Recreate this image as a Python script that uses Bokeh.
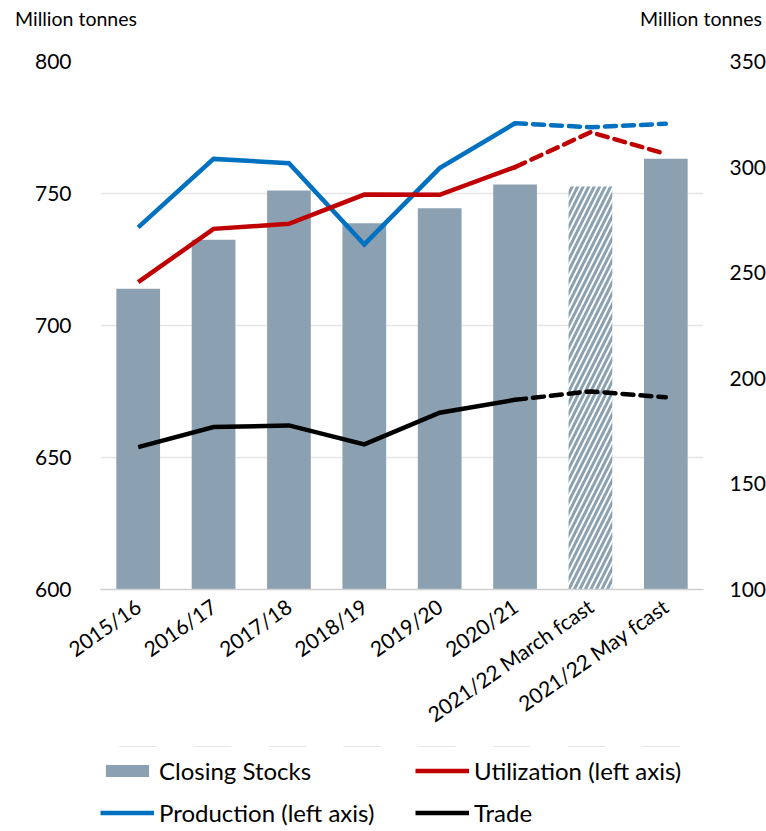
import math
from bokeh.plotting import figure
from bokeh.layouts import column
from bokeh.models import (FactorRange, Range1d, LinearAxis, FixedTicker, Legend, Div)
from bokeh.embed import file_html
from bokeh.resources import INLINE

categories = ["2015/16", "2016/17", "2017/18", "2018/19", "2019/20", "2020/21",
              "2021/22 March fcast", "2021/22 May fcast"]
closing_stocks = [242.4, 265.6, 288.9, 273.4, 280.5, 291.8, 290.8, 303.9]
production = [737.2, 763.1, 761.5, 730.7, 759.6, 776.6, 775.1, 776.4]
utilization = [716.4, 736.6, 738.5, 749.6, 749.5, 760.0, 773.2, 765.0]
trade = [167.4, 176.9, 177.7, 168.7, 183.7, 189.8, 193.8, 191.0]
left_ticks = [600, 650, 700, 750, 800]
right_ticks = [100, 150, 200, 250, 300, 350]
axis_title = "Million tonnes"

FONT = "Lato"
BAR = "#8BA1B1"
BLUE = "#0070C0"
RED = "#C00000"
W = 764
DIV_H = 36

p = figure(x_range=FactorRange(*categories, range_padding=0),
           y_range=Range1d(600, 800),
           frame_width=603, frame_height=528,
           output_backend="svg", toolbar_location=None,
           min_border_left=100, min_border_right=W - 703, min_border_top=61 - DIV_H,
           min_border_bottom=157)
p.outline_line_color = None
p.extra_y_ranges = {"right": Range1d(100, 350)}

# bars
solid_idx = [0, 1, 2, 3, 4, 5, 7]
p.vbar(x=[categories[i] for i in solid_idx],
       top=[closing_stocks[i] for i in solid_idx],
       bottom=100, width=0.58, y_range_name="right",
       fill_color=BAR, line_color=None)
p.vbar(x=[categories[6]], top=[closing_stocks[6]], bottom=100, width=0.58,
       y_range_name="right", fill_color="white", line_color=None,
       hatch_pattern="/", hatch_color=BAR, hatch_weight=3, hatch_scale=11)

# lines
def draw(vals, color, rng=None):
    kw = {} if rng is None else {"y_range_name": rng}
    p.line(categories[:6], vals[:6], line_color=color, line_width=4.5,
           line_join="miter", **kw)
    p.line(categories[5:], vals[5:], line_color=color, line_width=4.5,
           line_dash="11 7", line_cap="round", **kw)

draw(production, BLUE)
draw(utilization, RED)
draw(trade, "black", "right")

# axes
p.yaxis.ticker = FixedTicker(ticks=left_ticks)
right_axis = LinearAxis(y_range_name="right", ticker=FixedTicker(ticks=right_ticks))
p.add_layout(right_axis, "right")
for ax in [p.yaxis[0], right_axis]:
    ax.axis_line_color = None
    ax.major_tick_line_color = None
    ax.minor_tick_line_color = None
    ax.major_label_text_font = FONT
    ax.major_label_text_font_size = "21px"
    ax.major_label_text_color = "black"
p.yaxis[0].major_label_standoff = 23
right_axis.major_label_standoff = 20

xa = p.xaxis[0]
xa.axis_line_color = "#D0D0D0"
xa.axis_line_width = 1.5
xa.major_tick_line_color = None
xa.minor_tick_line_color = None
xa.major_label_text_font = FONT
xa.major_label_text_font_size = "21px"
xa.major_label_text_color = "black"
xa.major_label_orientation = math.radians(35)
xa.major_label_standoff = 8

p.xgrid.grid_line_color = None
p.ygrid.grid_line_color = "#E6E6E6"
p.ygrid.grid_line_width = 1.5
p.ygrid.ticker = FixedTicker(ticks=left_ticks[1:])

# axis titles row
span = ("position:absolute;top:5px;white-space:nowrap;font-family:Lato;"
        "font-size:19.5px;color:black;")
titles = Div(text=(f'<div style="position:relative;width:{W}px;height:{DIV_H}px;">'
                   f'<span style="{span}left:15px;">{axis_title}</span>'
                   f'<span style="{span}left:640px;">{axis_title}</span></div>'),
             width=W, height=DIV_H, margin=0)

# legend panel (two columns x two rows); proxy renderers use the same series,
# drawn outside this panel's visible range so only their legend glyphs show
lg = figure(width=W, height=82, output_backend="svg", toolbar_location=None,
            x_range=FactorRange(*categories), y_range=Range1d(0, 1),
            min_border=0, x_axis_location=None, y_axis_location=None)
lg.outline_line_color = None
lg.xgrid.grid_line_color = None
lg.ygrid.grid_line_color = None
r_cs = lg.vbar(x=categories, top=closing_stocks, bottom=100, width=0.5,
               fill_color=BAR, line_color=None)
r_prod = lg.line(categories, production, line_color=BLUE, line_width=4.5)
r_util = lg.line(categories, utilization, line_color=RED, line_width=4.5)
r_trade = lg.line(categories, trade, line_color="black", line_width=4.5)
leg = Legend(items=[("Closing Stocks", [r_cs]), ("Production (left axis)", [r_prod]),
                    ("Utilization (left axis)", [r_util]), ("Trade", [r_trade])],
             ncols=2, location=(0, 1),
             glyph_width=54, glyph_height=15, label_standoff=5,
             label_width=243, label_height=25, spacing=13, padding=0, margin=0,
             border_line_color=None, background_fill_alpha=0,
             label_text_font=FONT, label_text_font_size="24px",
             label_text_color="black")
lg.add_layout(leg, "center")

layout = column(titles, p, lg, spacing=0)
open("out.html", "w").write(file_html(layout, INLINE))
